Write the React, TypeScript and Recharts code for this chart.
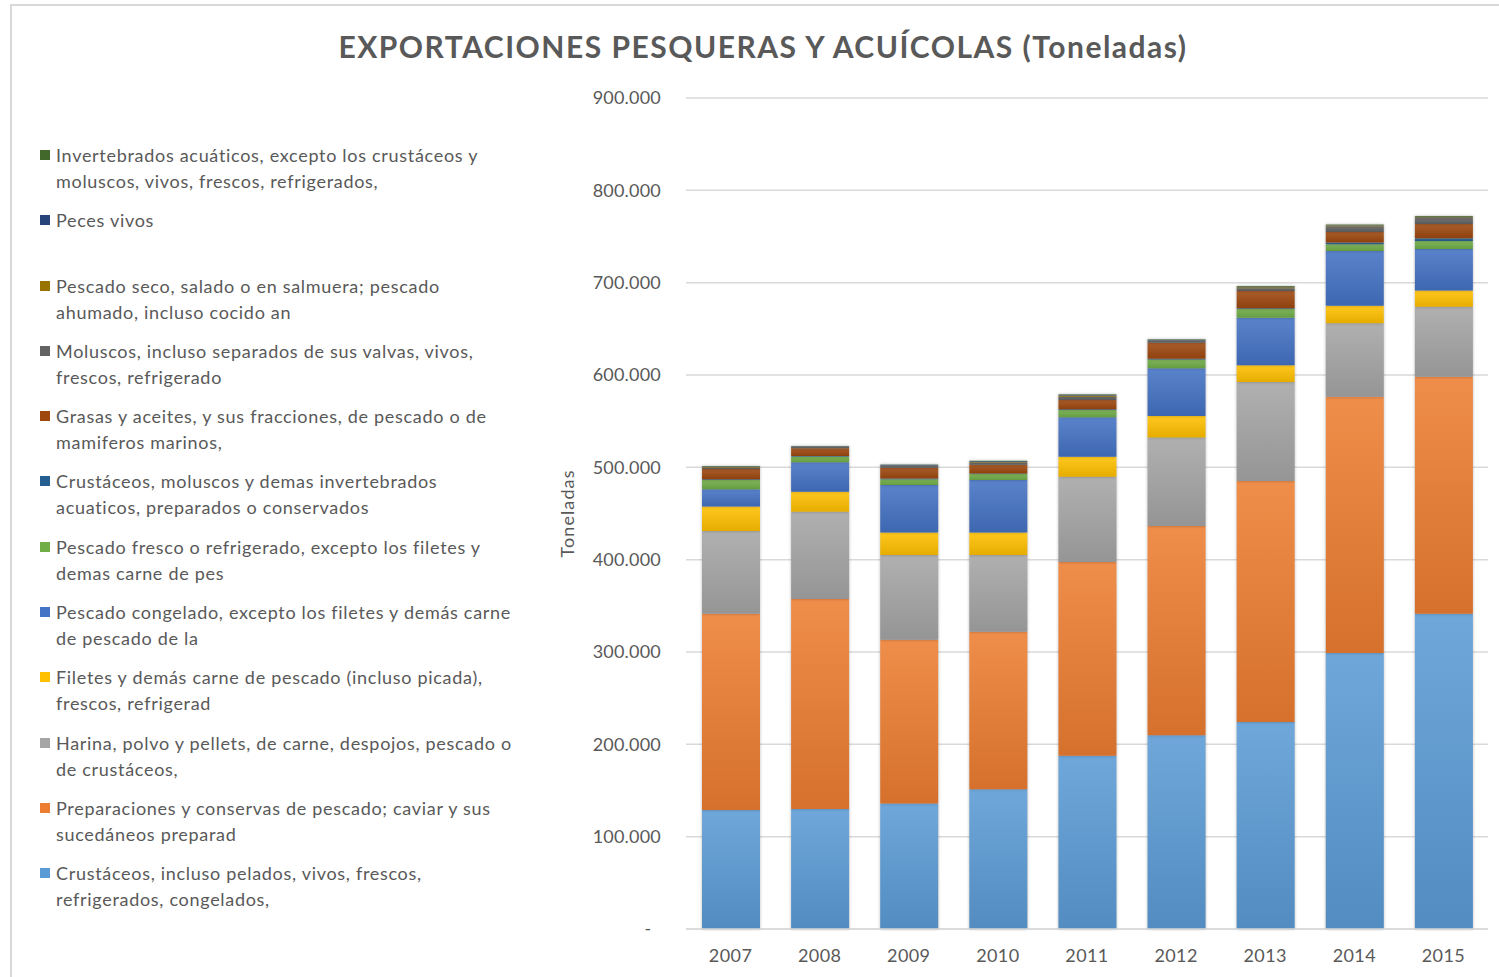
import React from 'react';
import { BarChart, Bar, XAxis, YAxis, CartesianGrid, Legend } from 'recharts';

const YEARS = ['2007', '2008', '2009', '2010', '2011', '2012', '2013', '2014', '2015'];

// values in tonnes, stack order bottom -> top
const CRUSTACEOS = [128900, 130000, 136000, 151300, 187700, 209800, 224200, 298900, 341500];
const PREPARACIONES = [212600, 227400, 177400, 170700, 209800, 226700, 261000, 277600, 256700];
const HARINA = [89500, 94600, 91600, 83000, 92400, 95900, 107200, 79500, 75800];
const FILETES = [26700, 21600, 24500, 24400, 21600, 23100, 18100, 19000, 17400];
const CONGELADO = [18500, 31800, 51300, 56800, 42700, 51700, 51500, 59300, 45100];
const FRESCO = [10000, 6200, 6400, 6500, 8000, 9600, 9400, 7200, 8600];
const CRUST_PREPARADOS = [1000, 700, 800, 700, 800, 800, 800, 2000, 2900];
const GRASAS = [10900, 8300, 11600, 9400, 10000, 17400, 18800, 11500, 15600];
const MOLUSCOS = [1800, 1400, 2000, 2400, 3500, 2000, 3000, 6000, 6500];
const SECO = [600, 300, 500, 600, 1200, 500, 1000, 800, 800];
const PECES_VIVOS = [500, 600, 700, 900, 800, 700, 600, 500, 600];
const INVERTEBRADOS = [400, 300, 400, 500, 600, 400, 800, 700, 700];

const Y_TICKS = [0, 100000, 200000, 300000, 400000, 500000, 600000, 700000, 800000, 900000];

const SERIES = [
  { key: 'crustaceos', name: 'Crustáceos, incluso pelados, vivos, frescos,\nrefrigerados, congelados,', color: '#5B9BD5', values: CRUSTACEOS },
  { key: 'preparaciones', name: 'Preparaciones y conservas de pescado; caviar y sus\nsucedáneos preparad', color: '#ED7D31', values: PREPARACIONES },
  { key: 'harina', name: 'Harina, polvo y pellets, de carne, despojos, pescado o\nde crustáceos,', color: '#A5A5A5', values: HARINA },
  { key: 'filetes', name: 'Filetes y demás carne de pescado (incluso picada),\nfrescos, refrigerad', color: '#FFC000', values: FILETES },
  { key: 'congelado', name: 'Pescado congelado, excepto los filetes y demás carne\nde pescado de la', color: '#4472C4', values: CONGELADO },
  { key: 'fresco', name: 'Pescado fresco o refrigerado, excepto los filetes y\ndemas carne de pes', color: '#70AD47', values: FRESCO },
  { key: 'crustPrep', name: 'Crustáceos, moluscos y demas invertebrados\nacuaticos, preparados o conservados', color: '#255E91', values: CRUST_PREPARADOS },
  { key: 'grasas', name: 'Grasas y aceites, y sus fracciones, de pescado o de\nmamiferos marinos,', color: '#9E480E', values: GRASAS },
  { key: 'moluscos', name: 'Moluscos, incluso separados de sus valvas, vivos,\nfrescos, refrigerado', color: '#636363', values: MOLUSCOS },
  { key: 'seco', name: 'Pescado seco, salado o en salmuera; pescado\nahumado, incluso cocido an', color: '#997300', values: SECO },
  { key: 'pecesVivos', name: 'Peces vivos', color: '#264478', values: PECES_VIVOS },
  { key: 'invertebrados', name: 'Invertebrados acuáticos, excepto los crustáceos y\nmoluscos, vivos, frescos, refrigerados,', color: '#43682B', values: INVERTEBRADOS },
];

const data = YEARS.map((year, i) => {
  const row: Record<string, string | number> = { year };
  SERIES.forEach((s) => {
    row[s.key] = s.values[i];
  });
  return row;
});

const FONT = 'Lato, "Open Sans", sans-serif';
const TEXT = '#595959';
const GRID = '#d9d9d9';

function mix(hex: string, target: number, amt: number) {
  const n = parseInt(hex.slice(1), 16);
  const ch = [(n >> 16) & 255, (n >> 8) & 255, n & 255].map((c) => Math.round(c + (target - c) * amt));
  return `rgb(${ch[0]},${ch[1]},${ch[2]})`;
}

const fmt = (v: number) => (v === 0 ? '-\u00A0\u00A0' : String(v).replace(/\B(?=(\d{3})+(?!\d))/g, '.'));

const LegendContent = () => (
  <div style={{ fontFamily: FONT, fontSize: 18, letterSpacing: 0.7, color: TEXT }}>
    {[...SERIES].reverse().map((s) => (
      <div key={s.key} style={{ position: 'relative', height: 65.3, paddingLeft: 16, boxSizing: 'border-box' }}>
        <div style={{ position: 'absolute', left: 0, top: 8, width: 10, height: 10, background: s.color }} />
        <div style={{ whiteSpace: 'pre', lineHeight: '26px' }}>{s.name}</div>
      </div>
    ))}
  </div>
);

export default function App() {
  return (
    <div style={{ position: 'absolute', left: 0, top: 0, width: 1499, height: 977, overflow: 'hidden', background: '#fff' }}>
      <style>{`.recharts-bar-rectangles { filter: drop-shadow(0px 0px 1.5px rgba(0,0,0,0.28)); }`}</style>
      <div style={{ position: 'absolute', left: 10, top: 4, width: 1520, height: 1000, border: `2px solid ${GRID}`, boxSizing: 'border-box' }} />
      <div
        style={{
          position: 'absolute',
          left: 0,
          width: 1526,
          top: 28,
          textAlign: 'center',
          fontFamily: FONT,
          fontWeight: 700,
          fontSize: 30,
          letterSpacing: 1.5,
          color: TEXT,
        }}
      >
        EXPORTACIONES PESQUERAS Y ACUÍCOLAS (Toneladas)
      </div>
      <div style={{ position: 'absolute', left: 0, top: 0 }}>
        <BarChart width={1499} height={977} data={data} margin={{ top: 98, right: 11, bottom: 8, left: 538 }} barSize={58}>
          <defs>
            {SERIES.map((s) => (
              <linearGradient key={s.key} id={`g-${s.key}`} x1="0" y1="0" x2="0" y2="1">
                <stop offset="0%" stopColor={mix(s.color, 255, 0.12)} />
                <stop offset="100%" stopColor={mix(s.color, 0, 0.1)} />
              </linearGradient>
            ))}
          </defs>
          <CartesianGrid vertical={false} stroke={GRID} strokeWidth={1.5} />
          <XAxis
            dataKey="year"
            height={40}
            tickLine={false}
            axisLine={{ stroke: GRID, strokeWidth: 1.5 }}
            tick={{ fill: TEXT, fontSize: 18, fontFamily: FONT, style: { letterSpacing: 0.4 } }}
            tickMargin={14}
          />
          <YAxis
            width={148}
            domain={[0, 900000]}
            ticks={Y_TICKS}
            tickFormatter={fmt}
            axisLine={false}
            tickLine={false}
            tickMargin={19}
            tick={{ fill: TEXT, fontSize: 18, fontFamily: FONT, style: { letterSpacing: 0.2 } }}
            label={{
              value: 'Toneladas',
              angle: -90,
              position: 'insideLeft',
              offset: 30,
              style: { textAnchor: 'middle', fill: TEXT, fontSize: 18, fontFamily: FONT, letterSpacing: 1.1 },
            }}
          />
          <Legend
            layout="horizontal"
            align="center"
            verticalAlign="middle"
            content={<LegendContent />}
            wrapperStyle={{ position: 'absolute', left: 40, top: 142, width: 520, height: 790 }}
          />
          {SERIES.map((s) => (
            <Bar key={s.key} dataKey={s.key} name={s.name} stackId="a" fill={`url(#g-${s.key})`} isAnimationActive={false} />
          ))}
        </BarChart>
      </div>
    </div>
  );
}
